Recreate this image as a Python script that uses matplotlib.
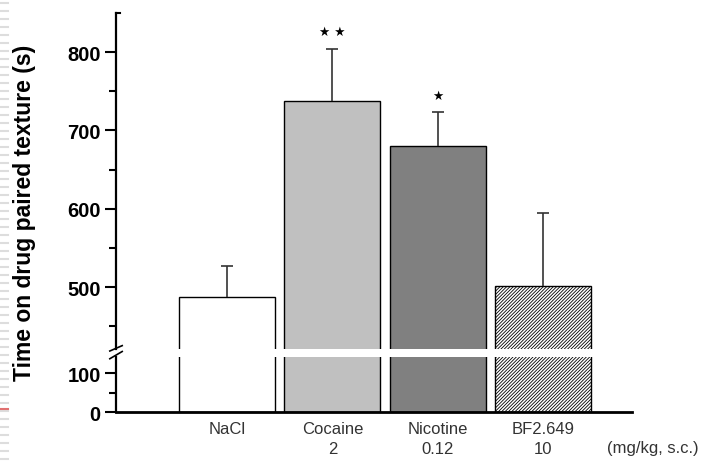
import matplotlib.pyplot as plt
import numpy as np

plt.rcParams['font.family'] = ['Liberation Sans', 'DejaVu Sans']
plt.rcParams['hatch.linewidth'] = 0.6
plt.rcParams['hatch.color'] = '#444444'

# Conditioned place preference, mean + SEM
groups = ['NaCl', 'Cocaine', 'Nicotine', 'BF2.649']
doses = ['', '2', '0.12', '10']
means = [488, 738, 680, 502]
sems = [39, 66, 43, 93]
signif = ['', '\u2605 \u2605', '\u2605', '']
colors = ['white', '#c0c0c0', '#808080', 'white']
hatches = [None, None, None, '//////////']

x = np.arange(len(groups))

fig = plt.figure(figsize=(7.1, 4.64), dpi=100)
ax_top = fig.add_axes([0.1634, 0.2457, 0.7267, 0.7241])
ax_bot = fig.add_axes([0.1634, 0.1093, 0.7267, 0.1202])

for ax in (ax_top, ax_bot):
    ax.bar(x, means, width=0.91, color=colors, edgecolor='black',
           linewidth=1.0, hatch=hatches, zorder=2)
    ax.set_xlim(-1.05, 3.84)
    for s in ('top', 'right'):
        ax.spines[s].set_visible(False)
    ax.spines['left'].set_linewidth(1.6)
    ax.tick_params(axis='y', which='major', direction='out', length=8,
                   width=1.5, labelsize=14.5, pad=3)
    ax.tick_params(axis='y', which='minor', direction='out', length=5,
                   width=1.5)

# error bars, upward only
eb = ax_top.errorbar(x, means, yerr=[np.zeros(len(sems)), sems], fmt='none',
                     ecolor='#333333', elinewidth=1.2, capsize=4,
                     capthick=1.2, zorder=3)
eb[1][0].set_visible(False)

for xi, m, s, txt in zip(x, means, sems, signif):
    if txt:
        ax_top.text(xi, m + s + 22, txt, ha='center', va='center',
                    fontsize=9, family=['DejaVu Sans'])

ax_top.set_ylim(421, 850)
ax_top.set_yticks([500, 600, 700, 800])
ax_top.set_yticks([450, 550, 650, 750], minor=True)
ax_top.spines['bottom'].set_visible(False)
ax_top.set_xticks([])
for lab in ax_top.get_yticklabels():
    lab.set_fontweight('bold')

ax_bot.set_ylim(0, 142)
ax_bot.set_yticks([0, 100])
ax_bot.set_yticks([50], minor=True)
ax_bot.spines['bottom'].set_linewidth(2)
ax_bot.set_xticks(x)
ax_bot.set_xticklabels([g + '\n' + d for g, d in zip(groups, doses)],
                       fontsize=12, color='#333333', linespacing=1.45)
ax_bot.tick_params(axis='x', length=0, pad=6)
for lab in ax_bot.get_yticklabels():
    lab.set_fontweight('bold')

# small cap at the top of the y axis
ax_top.plot([0, 0.008], [1, 1], transform=ax_top.transAxes, color='black',
            linewidth=1.5, clip_on=False)

# break marks on the y axis
kw = dict(color='black', linewidth=1.2, clip_on=False)
ax_top.plot([-0.012, 0.012], [-0.006, 0.010], transform=ax_top.transAxes, **kw)
ax_bot.plot([-0.012, 0.012], [0.96, 1.09], transform=ax_bot.transAxes, **kw)

fig.text(0.035, 0.542, 'Time on drug paired texture (s)', rotation=90,
         ha='center', va='center', fontsize=16.5, fontweight='bold')
fig.text(0.855, 0.033, '(mg/kg, s.c.)', fontsize=12, color='#333333',
         ha='left', va='center')

# slide margin strip
for yy in np.arange(0.008, 1.0, 0.01724):
    fig.add_artist(plt.Line2D([0, 0.011], [yy, yy], color='#dddddd',
                              linewidth=1.5))
fig.add_artist(plt.Line2D([0, 0.011], [0.116, 0.116], color='#e07070',
                          linewidth=1.5))

fig.savefig('out.png', dpi=100)
